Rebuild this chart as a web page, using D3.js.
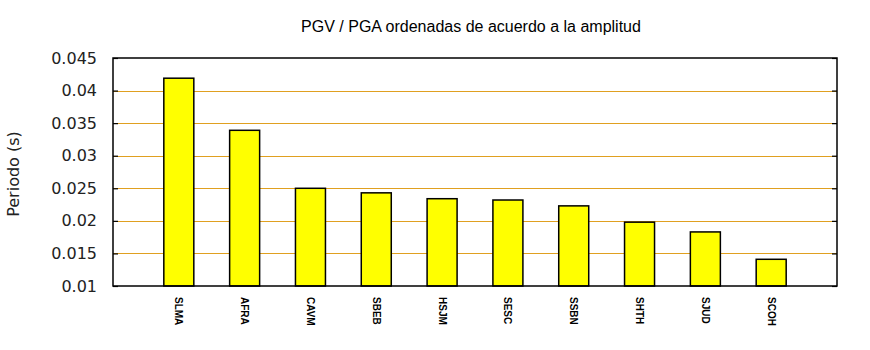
<!DOCTYPE html>
<html>
<head>
<meta charset="utf-8">
<script src="https://cdn.jsdelivr.net/npm/d3@7"></script>
<style>
  html, body { margin: 0; padding: 0; background: #fff; }
  svg { display: block; }
</style>
</head>
<body>
<svg id="chart" width="870" height="350"></svg>
<script>
// Stations ordered by amplitude and their PGV/PGA ratio (s)
const stations = ["SLMA", "AFRA", "CAVM", "SBEB", "HSJM", "SESC", "SSBN", "SHTH", "SJUD", "SCOH"];
const ratios = [0.0419, 0.0339, 0.0250, 0.0243, 0.0234, 0.0232, 0.0223, 0.0198, 0.0183, 0.0141];
const yTicks = [0.01, 0.015, 0.02, 0.025, 0.03, 0.035, 0.04, 0.045];
const yTickLabels = ["0.01", "0.015", "0.02", "0.025", "0.03", "0.035", "0.04", "0.045"];

const svg = d3.select("#chart");
const margin = { left: 113, right: 33, top: 58, bottom: 64 };
const W = 870, H = 350;
const plotW = W - margin.left - margin.right;
const plotH = H - margin.top - margin.bottom;

const x = d3.scalePoint().domain(stations).range([margin.left, margin.left + plotW]).padding(1);
const y = d3.scaleLinear().domain([0.01, 0.045]).range([margin.top + plotH, margin.top]);
const barW = 30;
const gridColor = "#e0a020";

// Horizontal grid lines
svg.append("g")
  .selectAll("line")
  .data(yTicks.filter(t => t > 0.01 && t < 0.045))
  .join("line")
  .attr("x1", margin.left).attr("x2", margin.left + plotW)
  .attr("y1", d => Math.round(y(d)) + 0.5).attr("y2", d => Math.round(y(d)) + 0.5)
  .attr("stroke", gridColor).attr("stroke-width", 1);

// Bars
svg.append("g")
  .selectAll("rect")
  .data(stations)
  .join("rect")
  .attr("x", d => x(d) - barW / 2)
  .attr("y", (d, i) => y(ratios[i]))
  .attr("width", barW)
  .attr("height", (d, i) => y(0.01) - y(ratios[i]))
  .attr("fill", "#ffff00")
  .attr("stroke", "#000")
  .attr("stroke-width", 1.5);

// Left axis: labels outside, ticks inward
const left = svg.append("g").attr("transform", `translate(${margin.left},0)`)
  .call(d3.axisLeft(y).tickValues(yTicks).tickFormat((d, i) => yTickLabels[i]).tickSizeInner(-5).tickSizeOuter(0).tickPadding(16));
left.select(".domain").remove();
left.selectAll(".tick line").attr("stroke", "#000").attr("stroke-width", 1.2);
left.selectAll(".tick text")
  .attr("font-family", "DejaVu Sans, sans-serif")
  .attr("font-size", 16)
  .attr("fill", "#222");

// Right axis: inward ticks only
const right = svg.append("g").attr("transform", `translate(${margin.left + plotW},0)`)
  .call(d3.axisRight(y).tickValues(yTicks).tickFormat("").tickSizeInner(-5).tickSizeOuter(0));
right.select(".domain").remove();
right.selectAll(".tick line").attr("stroke", "#000").attr("stroke-width", 1.2);

// Plot frame
svg.append("rect")
  .attr("x", margin.left).attr("y", margin.top)
  .attr("width", plotW).attr("height", plotH)
  .attr("fill", "none").attr("stroke", "#000").attr("stroke-width", 1.5);

// Station labels, rotated
svg.append("g")
  .selectAll("text")
  .data(stations)
  .join("text")
  .attr("transform", d => `translate(${x(d)},${margin.top + plotH + 11}) rotate(90)`)
  .attr("dy", "0.35em")
  .attr("text-anchor", "start")
  .attr("font-family", "Liberation Sans, Arial, sans-serif")
  .attr("font-size", 10)
  .attr("font-weight", "bold")
  .attr("fill", "#000")
  .text(d => d);

// Title
svg.append("text")
  .attr("x", 471).attr("y", 32)
  .attr("text-anchor", "middle")
  .attr("font-family", "Liberation Sans, Arial, sans-serif")
  .attr("font-size", 16)
  .attr("fill", "#000")
  .text("PGV / PGA ordenadas de acuerdo a la amplitud");

// Y axis title
svg.append("text")
  .attr("transform", `translate(19,${margin.top + plotH / 2 + 2}) rotate(-90)`)
  .attr("text-anchor", "middle")
  .attr("font-family", "DejaVu Sans, sans-serif")
  .attr("font-size", 16)
  .attr("fill", "#222")
  .text("Periodo (s)");
</script>
</body>
</html>
